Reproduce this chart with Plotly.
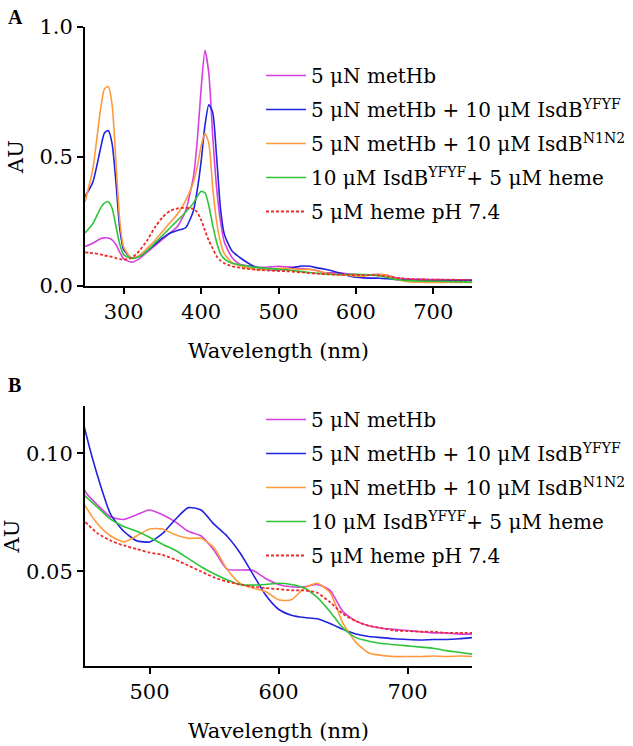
import plotly.graph_objects as go

# wavelength grid (nm)
wavelength = [250, 260, 270, 275, 280, 285, 290, 295, 300,
              310, 320, 330, 340, 350, 360, 370, 380, 390,
              395, 400, 405, 410, 415, 420, 425, 430,
              440, 450, 460, 470, 480, 490, 500, 510, 520, 530, 540, 550,
              560, 570, 580, 590, 600, 610, 620, 630, 640, 650, 660, 670,
              680, 690, 700, 710, 720, 730, 740, 750]

methb = [0.152, 0.165, 0.182, 0.186, 0.185, 0.178, 0.160, 0.130, 0.105,
         0.092, 0.105, 0.130, 0.155, 0.180, 0.205, 0.232, 0.290, 0.420,
         0.560, 0.760, 0.910, 0.820, 0.580, 0.380, 0.250, 0.170,
         0.110, 0.084, 0.078, 0.073, 0.072, 0.074, 0.076, 0.074, 0.071, 0.067, 0.065, 0.059,
         0.051, 0.0506, 0.0505, 0.047, 0.0445, 0.0435, 0.0435, 0.0445, 0.042, 0.033, 0.029, 0.027,
         0.026, 0.0255, 0.025, 0.0245, 0.024, 0.024, 0.0235, 0.0235]

methb_yfyf = [0.345, 0.400, 0.530, 0.590, 0.600, 0.550, 0.400, 0.220, 0.140,
              0.108, 0.115, 0.135, 0.160, 0.185, 0.205, 0.215, 0.225, 0.290,
              0.370, 0.480, 0.620, 0.700, 0.670, 0.500, 0.300, 0.200,
              0.135, 0.110, 0.090, 0.074, 0.067, 0.063, 0.0625, 0.066, 0.072, 0.077, 0.076, 0.070,
              0.065, 0.058, 0.049, 0.040, 0.034, 0.0315, 0.0305, 0.030, 0.028, 0.0255, 0.0235, 0.0225,
              0.022, 0.0215, 0.0212, 0.021, 0.0212, 0.0212, 0.0215, 0.022]

methb_n1n2 = [0.325, 0.450, 0.680, 0.760, 0.770, 0.700, 0.480, 0.250, 0.150,
              0.108, 0.118, 0.145, 0.175, 0.210, 0.245, 0.280, 0.330, 0.400,
              0.460, 0.540, 0.590, 0.550, 0.380, 0.250, 0.170, 0.125,
              0.090, 0.078, 0.070, 0.065, 0.0625, 0.065, 0.068, 0.068, 0.0655, 0.064, 0.064, 0.060,
              0.051, 0.045, 0.043, 0.0415, 0.038, 0.038, 0.043, 0.045, 0.041, 0.028, 0.020, 0.0155,
              0.0145, 0.014, 0.014, 0.014, 0.0142, 0.014, 0.0142, 0.014]

yfyf_heme = [0.205, 0.240, 0.300, 0.320, 0.325, 0.300, 0.230, 0.160, 0.120,
             0.107, 0.113, 0.135, 0.165, 0.195, 0.225, 0.255, 0.285, 0.320,
             0.345, 0.366, 0.360, 0.310, 0.235, 0.170, 0.125, 0.105,
             0.088, 0.082, 0.077, 0.072, 0.069, 0.067, 0.0645, 0.0615, 0.059, 0.0555, 0.052, 0.049,
             0.0465, 0.0445, 0.0442, 0.0445, 0.045, 0.0445, 0.043, 0.039, 0.033, 0.026, 0.022, 0.0205,
             0.0195, 0.019, 0.0185, 0.018, 0.0175, 0.0165, 0.0158, 0.015]

heme = [0.130, 0.127, 0.122, 0.118, 0.115, 0.112, 0.108, 0.104, 0.102,
        0.108, 0.135, 0.175, 0.225, 0.265, 0.290, 0.300, 0.302, 0.298,
        0.285, 0.255, 0.215, 0.175, 0.145, 0.115, 0.098, 0.088,
        0.076, 0.071, 0.066, 0.063, 0.061, 0.0595, 0.058, 0.057, 0.055, 0.0525, 0.050, 0.0475,
        0.0457, 0.0445, 0.0435, 0.043, 0.0425, 0.042, 0.042, 0.041, 0.037, 0.032, 0.029, 0.027,
        0.026, 0.025, 0.0248, 0.0245, 0.0245, 0.024, 0.024, 0.024]

names = ["5 \u03bcN metHb",
         "5 \u03bcN metHb + 10 \u03bcM IsdB<sup>YFYF</sup>",
         "5 \u03bcN metHb + 10 \u03bcM IsdB<sup>N1N2</sup>",
         "10 \u03bcM IsdB<sup>YFYF</sup>+ 5 \u03bcM heme",
         "5 \u03bcM heme pH 7.4"]
series = [methb, methb_yfyf, methb_n1n2, yfyf_heme, heme]
colors = ["#d63fe0", "#2222e0", "#ff9a3c", "#2ec43a", "#ee2b2b"]
dashes = ["solid", "solid", "solid", "solid", "3px,2px"]

FONT = "DejaVu Serif"

fig = go.Figure()

# panel A (full spectrum) and panel B (visible region)
for panel, (xa, ya, leg) in enumerate([("x", "y", "legend"), ("x2", "y2", "legend2")]):
    for i, (name, vals) in enumerate(zip(names, series)):
        fig.add_trace(go.Scatter(
            x=wavelength, y=vals, mode="lines", name=name,
            line=dict(color=colors[i], width=1.8 if i == 4 else 1.6, dash=dashes[i],
                      shape="spline", smoothing=0.6),
            xaxis=xa, yaxis=ya, legend=leg, legendgroup=f"p{panel}_{i}",
        ))

axis_style = dict(showline=True, linewidth=2, linecolor="black", ticks="outside",
                  ticklen=6, tickwidth=2, tickcolor="black", showgrid=False, zeroline=False,
                  automargin=False,
                  tickfont=dict(family=FONT, size=21, color="black"))
title_font = dict(family=FONT, size=21, color="black")
legend_style = dict(xanchor="left", yanchor="top", bgcolor="rgba(0,0,0,0)",
                    traceorder="grouped", tracegroupgap=5, itemwidth=40,
                    font=dict(family=FONT, size=20, color="black"))

x0, x1 = 85 / 633, 472 / 633
fig.update_layout(
    width=633, height=746,
    margin=dict(l=0, r=0, t=0, b=0),
    paper_bgcolor="white", plot_bgcolor="white",
    font=dict(family=FONT, color="black"),
    xaxis=dict(domain=[x0, x1], range=[250, 750], tickvals=[300, 400, 500, 600, 700],
               anchor="y", title=dict(text="Wavelength (nm)", font=title_font, standoff=20),
               **axis_style),
    yaxis=dict(domain=[1 - 286 / 746, 1 - 27 / 746], range=[0, 1.0], tickvals=[0, 0.5, 1.0],
               tickformat=".1f", anchor="x",
               title=dict(text="AU", font=title_font, standoff=10), **axis_style),
    xaxis2=dict(domain=[x0, x1], range=[450, 750], tickvals=[500, 600, 700],
                anchor="y2", title=dict(text="Wavelength (nm)", font=title_font, standoff=20),
                **axis_style),
    yaxis2=dict(domain=[1 - 666 / 746, 1 - 406 / 746], range=[0.01, 0.12], tickvals=[0.05, 0.10],
                tickformat=".2f", anchor="x2",
                title=dict(text="AU", font=title_font, standoff=10), **axis_style),
    legend=dict(x=261 / 633, y=1 - 56 / 746, **legend_style),
    legend2=dict(x=261 / 633, y=1 - 400 / 746, **legend_style),
    annotations=[
        dict(text="<b>A</b>", x=6 / 633, y=1 - 4 / 746, xref="paper", yref="paper",
             xanchor="left", yanchor="top", showarrow=False,
             font=dict(family="Liberation Serif", size=20, color="black")),
        dict(text="<b>B</b>", x=6 / 633, y=1 - 372 / 746, xref="paper", yref="paper",
             xanchor="left", yanchor="top", showarrow=False,
             font=dict(family="Liberation Serif", size=20, color="black")),
    ],
)

# drop the default page margin so the figure sits at the window origin
fig.write_html("out.html", config={"displayModeBar": False},
               post_script="document.body.style.margin = '0';")
